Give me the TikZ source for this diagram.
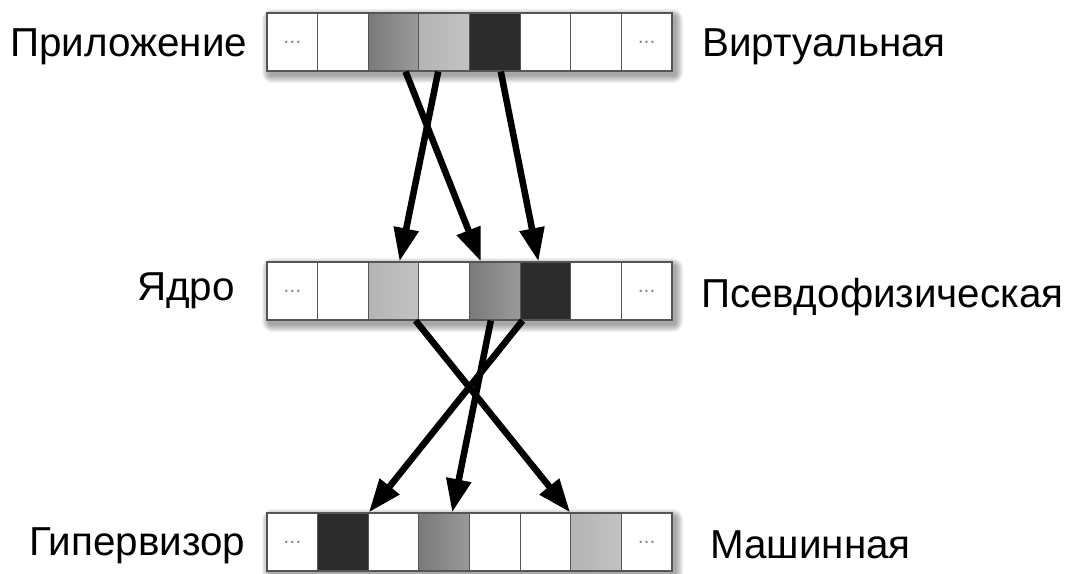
\documentclass[tikz,border=0pt]{standalone}
\usepackage{fontspec}
\setmainfont{Liberation Sans}
\usetikzlibrary{arrows.meta,calc}
\definecolor{cellborder}{HTML}{555555}
\definecolor{darkcell}{HTML}{2C2C2C}
\definecolor{midL}{HTML}{7A7A7A}
\definecolor{midR}{HTML}{9A9A9A}
\definecolor{lightL}{HTML}{B4B4B4}
\definecolor{lightR}{HTML}{C2C2C2}
\definecolor{dotcol}{HTML}{8A8A8A}
\begin{document}
\begin{tikzpicture}[x=0.75pt,y=-0.75pt,
  cellbase/.style={draw=cellborder, line width=0.9pt, minimum width=37.95pt,
    minimum height=43.5pt, inner sep=0pt},
  wcell/.style={cellbase, fill=white},
  dcell/.style={cellbase, fill=white, font=\fontsize{16}{16}\selectfont, text=dotcol},
  kcell/.style={cellbase, fill=darkcell},
  mcell/.style={cellbase, left color=midL, right color=midR},
  lcell/.style={cellbase, left color=lightL, right color=lightR},
  lbl/.style={font=\fontsize{30.3}{36}\selectfont, inner sep=0pt, text=black},
  arr/.style={line width=4.9pt, -{Triangle[length=25pt,width=18pt]}},
  shadowlayer/.style={fill=black, opacity=0.05}
]
\useasboundingbox (0,0) rectangle (1071,574);
% shadows
\foreach \yc in {42,291,542}{
  \foreach \k in {1,...,8}{
    \fill[shadowlayer, rounded corners=\k pt]
      ({267+3-\k},{\yc-29+4-\k}) rectangle ({672+3+\k},{\yc+29+4+\k});
  }
}
% top row
\foreach \i/\s/\t in {1/dcell/{...},2/wcell/{},3/mcell/{},4/lcell/{},5/kcell/{},6/wcell/{},7/wcell/{},8/dcell/{...}}{
  \node[\s] (t\i) at ({267+50.625*(\i-0.5)},42) {\t};
}
% middle row
\foreach \i/\s/\t in {1/dcell/{...},2/wcell/{},3/lcell/{},4/wcell/{},5/mcell/{},6/kcell/{},7/wcell/{},8/dcell/{...}}{
  \node[\s] (m\i) at ({267+50.625*(\i-0.5)},291) {\t};
}
% bottom row
\foreach \i/\s/\t in {1/dcell/{...},2/kcell/{},3/wcell/{},4/mcell/{},5/wcell/{},6/wcell/{},7/lcell/{},8/dcell/{...}}{
  \node[\s] (b\i) at ({267+50.625*(\i-0.5)},542) {\t};
}
% labels
\node[lbl, anchor=base west] (app) at (10,57) {Приложение};
\node[lbl, anchor=base west] (virt) at (702,57) {Виртуальная};
\node[lbl, anchor=base west] (kern) at (137,300) {Ядро};
\node[lbl, anchor=base west] (pseudo) at (701,307) {Псевдофизическая};
\node[lbl, anchor=base west] (hyp) at (29,555) {Гипервизор};
\node[lbl, anchor=base west] (mach) at (710,558) {Машинная};
% arrows top -> middle
\draw[arr] ($(t3.south)+(12,0)$) -- ($(m5.north)+(-14,0)$);
\draw[arr] ($(t4.south)+(-6,0)$) -- ($(m3.north)+(6,0)$);
\draw[arr] ($(t5.south)+(6,0)$) -- ($(m6.north)+(-7,0)$);
% arrows middle -> bottom
\draw[arr] ($(m3.south)+(22,0)$) -- (b7.north west);
\draw[arr] ($(m5.south)+(-4,0)$) -- ($(b4.north)+(8,0)$);
\draw[arr] ($(m6.south west)+(3,0)$) -- (b2.north east);
\end{tikzpicture}
\end{document}
